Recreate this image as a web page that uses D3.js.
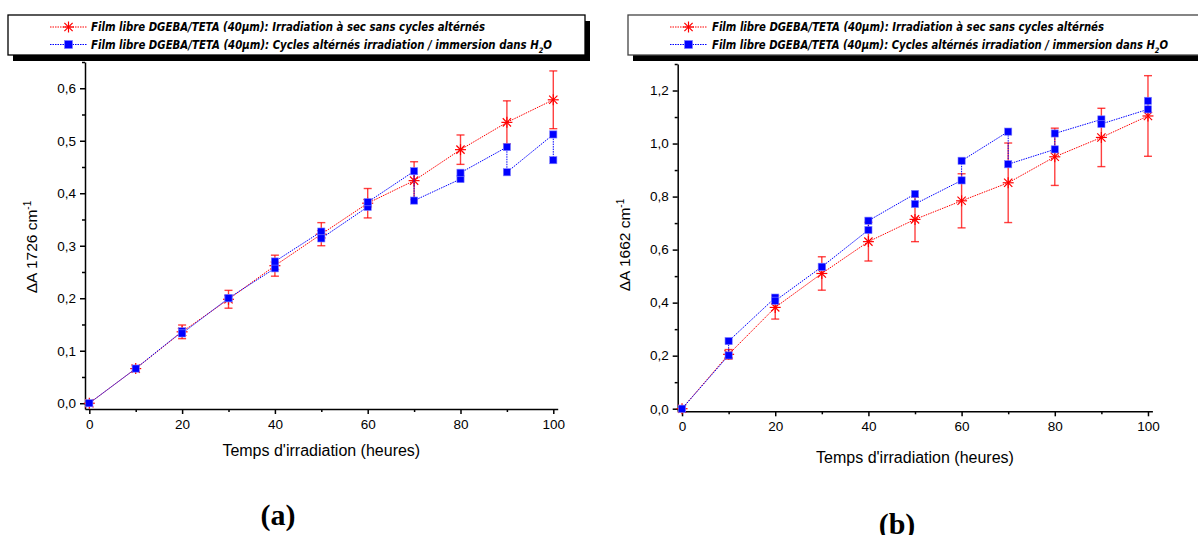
<!DOCTYPE html>
<html>
<head>
<meta charset="utf-8">
<script src="https://cdn.jsdelivr.net/npm/d3@7"></script>
<style>
  html, body { margin: 0; padding: 0; background: #fff; }
  svg { display: block; }
</style>
</head>
<body>
<svg id="chart" width="1198" height="535"></svg>
<script>
// ---------- DATA ----------
const hours = [0, 10, 20, 30, 40, 50, 60, 70, 80, 90, 100];

// (a) ΔA 1726 cm-1
const dryA = [0, 0.066, 0.136, 0.198, 0.262, 0.322, 0.381, 0.424, 0.483, 0.535, 0.578];
const dryErrA = [0, 0.005, 0.013, 0.017, 0.02, 0.022, 0.028, 0.036, 0.028, 0.041, 0.055];
const cycleHoursA = [0, 10, 20, 20, 30, 30, 40, 40, 50, 50, 60, 60, 70, 70, 80, 80, 90, 90, 100, 100];
const cycleA = [0, 0.066, 0.137, 0.133, 0.2, 0.2, 0.257, 0.27, 0.327, 0.314, 0.374, 0.383, 0.442, 0.386, 0.427, 0.439, 0.488, 0.44, 0.512, 0.463];

// (b) ΔA 1662 cm-1
const dryB = [0, 0.205, 0.382, 0.51, 0.63, 0.714, 0.784, 0.852, 0.95, 1.023, 1.104];
const dryErrB = [0, 0.018, 0.044, 0.063, 0.073, 0.084, 0.102, 0.15, 0.108, 0.11, 0.152];
const cycleHoursB = [0, 10, 10, 20, 20, 30, 30, 40, 40, 50, 50, 60, 60, 70, 70, 80, 80, 90, 90, 100, 100];
const cycleB = [0, 0.201, 0.255, 0.419, 0.407, 0.535, 0.535, 0.674, 0.709, 0.81, 0.772, 0.861, 0.935, 1.045, 0.922, 0.978, 1.038, 1.091, 1.074, 1.129, 1.161];

const xTicksMajor = [0, 20, 40, 60, 80, 100];
const xTicksMinor = [10, 30, 50, 70, 90];
const yTicksMajorA = [0, 0.1, 0.2, 0.3, 0.4, 0.5, 0.6];
const yTicksMinorA = [0.05, 0.15, 0.25, 0.35, 0.45, 0.55, 0.65];
const yTicksMajorB = [0, 0.2, 0.4, 0.6, 0.8, 1.0, 1.2];
const yTicksMinorB = [0.1, 0.3, 0.5, 0.7, 0.9, 1.1, 1.3];

const legendLabels = [
  "Film libre DGEBA/TETA (40µm): Irradiation à sec sans cycles altérnés",
  "Film libre DGEBA/TETA (40µm): Cycles altérnés irradiation / immersion dans H"
];
const xTitle = "Temps d'irradiation (heures)";
const panelLabels = ["(a)", "(b)"];

// ---------- DRAW ----------
const svg = d3.select("#chart");
const RED = "#ff0000", BLUE = "#0000ff";
const fmt = d => d3.format(".1f")(d).replace(".", ",");

function star(g, x, y, r) {
  const p = [[-r, 0, r, 0], [0, -r, 0, r], [-r*0.75, -r*0.75, r*0.75, r*0.75], [-r*0.75, r*0.75, r*0.75, -r*0.75]];
  p.forEach(a => g.append("line")
    .attr("x1", x + a[0]).attr("y1", y + a[1]).attr("x2", x + a[2]).attr("y2", y + a[3])
    .attr("stroke", RED).attr("stroke-width", 1.2));
}

function legend(box, cfg) {
  const g = svg.append("g");
  g.append("rect").attr("x", box.x + 5).attr("y", box.y + 6).attr("width", box.w).attr("height", box.h).attr("fill", "#000");
  g.append("rect").attr("x", box.x).attr("y", box.y).attr("width", box.w).attr("height", box.h)
    .attr("fill", "#fff").attr("stroke", cfg.border).attr("stroke-width", 1.3);
  const rows = [box.y + 12, box.y + 29.5];
  g.append("line").attr("x1", cfg.l0).attr("x2", cfg.l1).attr("y1", rows[0]).attr("y2", rows[0])
    .attr("stroke", RED).attr("stroke-width", 1).attr("stroke-dasharray", "1.5,1");
  star(g, (cfg.l0 + cfg.l1) / 2, rows[0], 5.5);
  g.append("line").attr("x1", cfg.l0).attr("x2", cfg.l1).attr("y1", rows[1]).attr("y2", rows[1])
    .attr("stroke", BLUE).attr("stroke-width", 1).attr("stroke-dasharray", "1.5,1");
  g.append("rect").attr("x", (cfg.l0 + cfg.l1) / 2 - 4).attr("y", rows[1] - 4).attr("width", 8).attr("height", 8)
    .attr("fill", BLUE).attr("stroke", "#7f7fff").attr("stroke-width", 0.6);
  const tstyle = s => s.attr("font-family", "'DejaVu Sans', sans-serif").attr("font-weight", "bold")
    .attr("font-style", "italic").attr("font-size", "11.5px").attr("fill", "#000");
  g.append("text").attr("x", cfg.tx).attr("y", rows[0] + 4).text(legendLabels[0])
    .attr("textLength", cfg.w1).attr("lengthAdjust", "spacingAndGlyphs").call(tstyle);
  const t2 = g.append("text").attr("x", cfg.tx).attr("y", rows[1] + 4)
    .attr("textLength", cfg.w2).attr("lengthAdjust", "spacingAndGlyphs").call(tstyle);
  t2.append("tspan").text(legendLabels[1]);
  t2.append("tspan").attr("dy", 4).attr("font-size", "7.5px").text("2");
  t2.append("tspan").attr("dy", -4).text("O");
}

function panel(cfg) {
  const x = d3.scaleLinear().domain([-0.93, 100.95]).range(cfg.xr);
  const y = d3.scaleLinear().domain(cfg.yd).range(cfg.yr);
  const g = svg.append("g");

  const xAxis = d3.axisBottom(x).tickValues(xTicksMajor).tickSize(5).tickSizeOuter(0).tickPadding(5).tickFormat(d3.format("d"));
  const xa = g.append("g").attr("transform", `translate(0,${cfg.yr[0]})`).call(xAxis);
  const xm = d3.axisBottom(x).tickValues(xTicksMinor).tickSize(3).tickSizeOuter(0).tickFormat("");
  const xb = g.append("g").attr("transform", `translate(0,${cfg.yr[0]})`).call(xm);
  xb.select(".domain").remove();

  const yAxis = d3.axisLeft(y).tickValues(cfg.yMajor).tickSize(5).tickSizeOuter(0).tickPadding(4).tickFormat(fmt);
  const ya = g.append("g").attr("transform", `translate(${cfg.xr[0]},0)`).call(yAxis);
  const ym = d3.axisLeft(y).tickValues(cfg.yMinor).tickSize(3).tickSizeOuter(0).tickFormat("");
  const yb = g.append("g").attr("transform", `translate(${cfg.xr[0]},0)`).call(ym);
  yb.select(".domain").remove();

  [xa, xb, ya, yb].forEach(a => {
    a.selectAll(".domain, line").attr("stroke", "#000").attr("stroke-width", 1.5);
    a.selectAll("text").attr("font-family", "'Liberation Sans', Arial, sans-serif").attr("font-size", "13.5px").attr("fill", "#000");
  });

  g.append("text").attr("x", (x(0) + x(100)) / 2).attr("y", cfg.xtY).attr("text-anchor", "middle")
    .attr("font-family", "'Liberation Sans', Arial, sans-serif").attr("font-size", "16px").text(xTitle);
  const yt = g.append("text").attr("transform", `translate(${cfg.ytX},${cfg.ytY}) rotate(-90)`).attr("text-anchor", "middle")
    .attr("font-family", "'Liberation Sans', Arial, sans-serif").attr("font-size", "15.5px");
  yt.append("tspan").text("\u0394A " + cfg.wn + " cm");
  yt.append("tspan").attr("dy", -6).attr("font-size", "10px").text("-1");

  const line = d3.line().x(d => x(d[0])).y(d => y(d[1]));
  const red = hours.map((h, i) => [h, cfg.dry[i], cfg.err[i]]);
  g.append("path").datum(red).attr("d", line).attr("fill", "none").attr("stroke", RED)
    .attr("stroke-width", 1).attr("stroke-dasharray", "1.5,1");
  const eb = g.append("g").attr("stroke", RED).attr("stroke-opacity", 0.75).attr("stroke-width", 1.4);
  red.filter(d => d[2] > 0).forEach(d => {
    eb.append("line").attr("x1", x(d[0])).attr("x2", x(d[0])).attr("y1", y(d[1] - d[2])).attr("y2", y(d[1] + d[2]));
    [d[1] - d[2], d[1] + d[2]].forEach(v => eb.append("line").attr("x1", x(d[0]) - 4).attr("x2", x(d[0]) + 4).attr("y1", y(v)).attr("y2", y(v)));
  });
  red.forEach(d => star(g, x(d[0]), y(d[1]), 5.5));

  const blue = cfg.cycH.map((h, i) => [h, cfg.cyc[i]]);
  g.append("path").datum(blue).attr("d", line).attr("fill", "none").attr("stroke", BLUE)
    .attr("stroke-width", 1).attr("stroke-dasharray", "1.5,1");
  g.selectAll(null).data(blue).enter().append("rect")
    .attr("x", d => x(d[0]) - 3.6).attr("y", d => y(d[1]) - 3.6).attr("width", 7.2).attr("height", 7.2)
    .attr("fill", BLUE).attr("stroke", "#8080ff").attr("stroke-width", 0.6);

  svg.append("text").attr("x", cfg.pl[0]).attr("y", cfg.pl[1]).attr("text-anchor", "middle")
    .attr("font-family", "'Liberation Serif', 'Times New Roman', serif").attr("font-weight", "bold")
    .attr("font-size", "30px").text(cfg.plText);
}

panel({ xr: [85, 557.7], yd: [-0.011, 0.65], yr: [409, 62], yMajor: yTicksMajorA, yMinor: yTicksMinorA,
  dry: dryA, err: dryErrA, cycH: cycleHoursA, cyc: cycleA, wn: "1726",
  xtY: 456, ytX: 37, ytY: 247, pl: [278, 525], plText: panelLabels[0] });
panel({ xr: [677.7, 1152.4], yd: [-0.0098, 1.3], yr: [411.3, 64], yMajor: yTicksMajorB, yMinor: yTicksMinorB,
  dry: dryB, err: dryErrB, cycH: cycleHoursB, cyc: cycleB, wn: "1662",
  xtY: 463, ytX: 630, ytY: 245, pl: [897, 534], plText: panelLabels[1] });

legend({ x: 8, y: 15, w: 577, h: 40 }, { border: "#000", l0: 50, l1: 87, tx: 91, w1: 394, w2: 461 });
legend({ x: 628, y: 15, w: 600, h: 40 }, { border: "#444", l0: 670, l1: 707, tx: 712, w1: 392, w2: 456 });
</script>
</body>
</html>
